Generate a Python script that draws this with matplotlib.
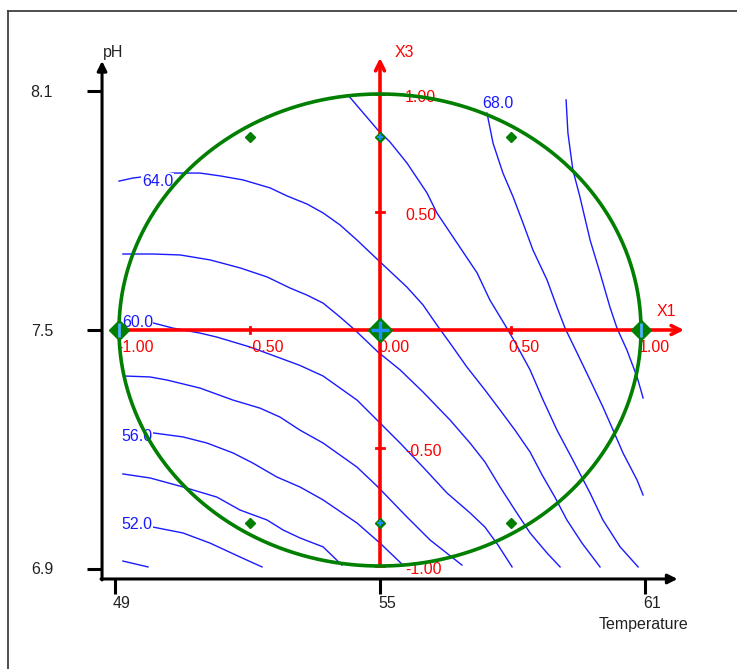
import numpy as np
import matplotlib
matplotlib.use("Agg")
import matplotlib.pyplot as plt
from matplotlib.lines import Line2D

plt.rcParams['font.family'] = ['Liberation Sans', 'DejaVu Sans']

# ---------------- data (coded design space X1, X3) ----------------
# contour lines of the response: (X1, X3) points
LINE_50 = [(-0.985, -0.979), (-0.889, -1.004)]
LINE_52 = [(-0.99, -0.826), (-0.87, -0.835), (-0.755, -0.860), (-0.651, -0.903),
           (-0.536, -0.962), (-0.452, -1.004)]
LINE_54 = [(-0.985, -0.610), (-0.881, -0.627), (-0.755, -0.665), (-0.625, -0.708),
           (-0.536, -0.763), (-0.433, -0.805), (-0.372, -0.847), (-0.307, -0.881),
           (-0.218, -0.919), (-0.146, -0.996)]
LINE_56 = [(-0.989, -0.432), (-0.870, -0.436), (-0.755, -0.453), (-0.663, -0.479),
           (-0.563, -0.521), (-0.487, -0.564), (-0.395, -0.623), (-0.307, -0.665),
           (-0.218, -0.720), (-0.088, -0.818), (0.0, -0.903), (0.088, -0.996)]
LINE_58 = [(-0.977, -0.195), (-0.881, -0.199), (-0.816, -0.212), (-0.690, -0.246),
           (-0.563, -0.297), (-0.460, -0.331), (-0.383, -0.369), (-0.307, -0.424),
           (-0.218, -0.479), (-0.088, -0.581), (-0.008, -0.665), (0.103, -0.792),
           (0.192, -0.890), (0.314, -0.996)]
LINE_60 = [(-0.996, 0.038), (-0.870, 0.030), (-0.793, 0.008), (-0.690, -0.013),
           (-0.625, -0.030), (-0.498, -0.072), (-0.395, -0.114), (-0.307, -0.150),
           (-0.218, -0.195), (-0.088, -0.297), (0.0, -0.394), (0.077, -0.479),
           (0.165, -0.581), (0.257, -0.691), (0.345, -0.775), (0.402, -0.835),
           (0.452, -0.911), (0.506, -1.004)]
LINE_62 = [(-0.985, 0.322), (-0.870, 0.322), (-0.766, 0.318), (-0.651, 0.297),
           (-0.536, 0.263), (-0.433, 0.225), (-0.345, 0.178), (-0.280, 0.148),
           (-0.218, 0.114), (-0.153, 0.055), (-0.096, 0.0), (-0.008, -0.093),
           (0.077, -0.169), (0.165, -0.263), (0.268, -0.381), (0.345, -0.479),
           (0.402, -0.559), (0.460, -0.665), (0.517, -0.763), (0.575, -0.860),
           (0.640, -0.945), (0.690, -1.004)]
LINE_64 = [(-1.0, 0.631), (-0.946, 0.644), (-0.793, 0.665), (-0.690, 0.665),
           (-0.613, 0.653), (-0.525, 0.636), (-0.421, 0.602), (-0.356, 0.568),
           (-0.280, 0.534), (-0.218, 0.496), (-0.153, 0.445), (-0.088, 0.381),
           (-0.008, 0.297), (0.103, 0.182), (0.165, 0.106), (0.218, 0.021),
           (0.268, -0.055), (0.333, -0.157), (0.402, -0.254), (0.460, -0.339),
           (0.517, -0.424), (0.575, -0.517), (0.621, -0.614), (0.670, -0.708),
           (0.716, -0.805), (0.774, -0.903), (0.843, -1.004)]
LINE_66 = [(-0.123, 0.996), (-0.008, 0.847), (0.038, 0.797), (0.103, 0.708),
           (0.180, 0.581), (0.218, 0.496), (0.295, 0.369), (0.372, 0.242),
           (0.421, 0.127), (0.479, 0.021), (0.517, -0.051), (0.575, -0.169),
           (0.625, -0.297), (0.678, -0.424), (0.739, -0.551), (0.805, -0.691),
           (0.854, -0.805), (0.920, -0.919), (0.989, -1.004)]
LINE_68 = [(0.410, 0.919), (0.433, 0.792), (0.471, 0.665), (0.510, 0.564),
           (0.548, 0.453), (0.586, 0.339), (0.640, 0.212), (0.678, 0.097),
           (0.709, 0.008), (0.755, -0.097), (0.805, -0.212), (0.854, -0.326),
           (0.893, -0.424), (0.931, -0.521), (0.985, -0.636), (1.008, -0.699)]
LINE_70 = [(0.713, 0.975), (0.720, 0.835), (0.739, 0.678), (0.766, 0.564),
           (0.805, 0.381), (0.843, 0.242), (0.881, 0.097), (0.908, 0.008),
           (0.946, -0.085), (0.985, -0.199), (1.008, -0.288)]
CONTOUR_LINES = [LINE_50, LINE_52, LINE_54, LINE_56, LINE_58, LINE_60,
                 LINE_62, LINE_64, LINE_66, LINE_68, LINE_70]

# contour labels: text, X1, X3 (left edge / centre line)
LABEL_TEXTS = ["64.0", "60.0", "56.0", "52.0", "68.0"]
LABEL_X1 = [-0.912, -0.989, -0.989, -0.989, 0.391]
LABEL_X3 = [0.631, 0.030, -0.453, -0.826, 0.958]

# experimental design points (coded)
CUBE_X1 = [-0.5, 0.5, -0.5, 0.5]
CUBE_X3 = [0.818, 0.818, -0.816, -0.816]
AXIAL_X1 = [0.0, 0.0]
AXIAL_X3 = [0.818, -0.816]
STAR_X1 = [-1.0, 1.0]
STAR_X3 = [0.0, 0.0]
CENTER_X1 = [0.0]
CENTER_X3 = [0.0]

# coded axis ticks
CODED_TICKS = [-1.0, -0.5, 0.0, 0.5, 1.0]
CODED_LABELS = ["-1.00", "-0.50", "0.00", "0.50", "1.00"]

# natural axes
TEMP_TICKS = [49, 55, 61]
PH_TICKS = [6.9, 7.5, 8.1]
TEMP_CENTER, TEMP_STEP = 55.0, 5.909     # one coded unit in degrees
PH_CENTER, PH_STEP = 7.5, 0.5925         # one coded unit in pH

# ---------------- figure ----------------
W, H = 737, 669
fig = plt.figure(figsize=(W / 100, H / 100), dpi=100)
ax = fig.add_axes([0, 0, 1, 1])
PX_U, PX_V = 261.0, 236.0   # pixels per coded unit
ax.set_xlim(-380 / PX_U, (W - 380) / PX_U)
ax.set_ylim(-(H - 330) / PX_V, 330 / PX_V)
ax.axis('off')

def px_u(p):
    return p / PX_U

def px_v(p):
    return p / PX_V

FS = 11.5
BLUE = '#1a1aff'
RED = '#ff0000'
GREEN = '#007f00'

# outer frame (top and left border)
fig.add_artist(Line2D([8 / W, 1], [1 - 11 / H, 1 - 11 / H], transform=fig.transFigure,
                      color='#404040', lw=1.3))
fig.add_artist(Line2D([8 / W, 8 / W], [0, 1 - 11 / H], transform=fig.transFigure,
                      color='#404040', lw=1.3))

# black natural axes
ax0u = -1.065
ax0v = -1.055
ax.annotate('', xy=(ax0u, 1.14), xytext=(ax0u, ax0v - px_v(1)),
            arrowprops=dict(arrowstyle='-|>', color='black', lw=2.2,
                            mutation_scale=14, shrinkA=0, shrinkB=0))
ax.annotate('', xy=(1.14, ax0v), xytext=(ax0u - px_u(1), ax0v),
            arrowprops=dict(arrowstyle='-|>', color='black', lw=2.2,
                            mutation_scale=14, shrinkA=0, shrinkB=0))
for ph in PH_TICKS:
    v = (ph - PH_CENTER) / PH_STEP
    ax.plot([ax0u - px_u(15), ax0u], [v, v], color='black', lw=2.2, solid_capstyle='butt')
    ax.text(ax0u - px_u(49), v - px_v(1), f"{ph:.1f}", ha='right', va='center',
            fontsize=FS, color='#222222')
for t in TEMP_TICKS:
    u = (t - TEMP_CENTER) / TEMP_STEP
    ax.plot([u, u], [ax0v, ax0v - px_v(15)], color='black', lw=2.2, solid_capstyle='butt')
    ax.text(u - px_u(2), ax0v - px_v(25), f"{t}", ha='left', va='center', fontsize=FS,
            color='#222222')
ax.text(1.011, -1.25, "Temperature", ha='center', va='center', fontsize=FS, color='#222222')
ax.text(-1.061, 1.174, "pH", ha='left', va='center', fontsize=FS, color='#222222')

# contour lines
for line in CONTOUR_LINES:
    arr = np.array(line)
    ax.plot(arr[:, 0], arr[:, 1], color=BLUE, lw=1.0, zorder=3)
for txt, u, v in zip(LABEL_TEXTS, LABEL_X1, LABEL_X3):
    ax.text(u, v, txt, ha='left', va='center', fontsize=FS, color=BLUE, zorder=4,
            bbox=dict(facecolor='white', edgecolor='none', pad=0.3))

# red coded axes
ax.annotate('', xy=(1.165, 0), xytext=(-0.985, 0),
            arrowprops=dict(arrowstyle='->', color=RED, lw=2.6,
                            mutation_scale=16, shrinkA=0, shrinkB=0), zorder=5)
ax.annotate('', xy=(0, 1.153), xytext=(0, -1.0),
            arrowprops=dict(arrowstyle='->', color=RED, lw=2.6,
                            mutation_scale=16, shrinkA=0, shrinkB=0), zorder=5)
for t, lab in zip(CODED_TICKS, CODED_LABELS):
    ax.plot([t, t], [-px_v(3), px_v(3)], color=RED, lw=2, zorder=5)
    ax.text(t - px_u(2), -px_v(17), lab, ha='left', va='center', fontsize=FS,
            color=RED, zorder=6)
    if t != 0:
        ax.plot([-px_u(4), px_u(4)], [t, t], color=RED, lw=2, zorder=5)
        ax.text(px_u(25), t - px_v(3), lab, ha='left', va='center', fontsize=FS,
                color=RED, zorder=6)
ax.text(px_u(15), 1.174, "X3", ha='left', va='center', fontsize=FS, color=RED)
ax.text(1.061, px_v(18), "X1", ha='left', va='center', fontsize=FS, color=RED)

# green circle of the experimental domain
th = np.linspace(0, 2 * np.pi, 400)
ax.plot(np.cos(th), np.sin(th), color=GREEN, lw=2.6, zorder=7)

# design points
ax.plot(CUBE_X1, CUBE_X3, 'D', color=GREEN, ms=5, zorder=8)
ax.plot(AXIAL_X1, AXIAL_X3, 'D', color=GREEN, ms=5, zorder=8)
ax.plot(AXIAL_X1, AXIAL_X3, '+', color='#1e90ff', ms=5, mew=1.5, zorder=9)
ax.plot(STAR_X1, STAR_X3, 'D', color=GREEN, ms=10, zorder=8)
ax.plot(STAR_X1, STAR_X3, '|', color='#4fb0ff', ms=10, mew=2, zorder=9)
ax.plot(CENTER_X1, CENTER_X3, 'D', color=GREEN, ms=12, zorder=8)
ax.plot(CENTER_X1, CENTER_X3, '+', color='#1e90ff', ms=13, mew=2.5, zorder=9)

fig.savefig("out.png", dpi=100, facecolor='white')
